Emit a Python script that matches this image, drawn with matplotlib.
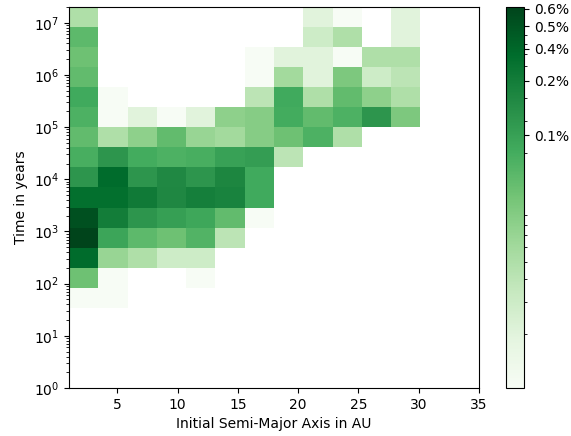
import numpy as np
import matplotlib
matplotlib.use("Agg")
import matplotlib.pyplot as plt
from matplotlib.colors import LogNorm
from matplotlib.ticker import FuncFormatter

# Bin edges: initial semi-major axis (AU) and ejection time (years, log bins)
a_edges = np.linspace(1, 35, 15)
t_edges = np.logspace(0, np.log10(2e7), 20)

# Particle counts per bin, listed from the latest time bin (top) down to the earliest
counts_top_down = [
    [5,   0,  0,  0,  0,  0,  0,  0,  2,  1,  0,  2, 0, 0],
    [15,  0,  0,  0,  0,  0,  0,  0,  3,  5,  0,  2, 0, 0],
    [12,  0,  0,  0,  0,  0,  1,  2,  2,  1,  5,  5, 0, 0],
    [14,  0,  0,  0,  0,  0,  1,  6,  2, 10,  3,  4, 0, 0],
    [21,  1,  0,  0,  0,  0,  4, 21,  5, 14,  8,  5, 0, 0],
    [18,  1,  2,  1,  2,  8,  9, 20, 14, 18, 31, 10, 0, 0],
    [14,  5,  8, 14,  7,  6,  9, 12, 18,  5,  0,  0, 0, 0],
    [19, 31, 20, 18, 19, 25, 27,  4,  0,  0,  0,  0, 0, 0],
    [31, 70, 31, 40, 31, 42, 21,  0,  0,  0,  0,  0, 0, 0],
    [65, 65, 53, 41, 48, 45, 21,  0,  0,  0,  0,  0, 0, 0],
    [107, 50, 31, 26, 22, 14, 1,  0,  0,  0,  0,  0, 0, 0],
    [128, 23, 15, 12, 17, 4,  0,  0,  0,  0,  0,  0, 0, 0],
    [70,  7,  5,  3,  3,  0,  0,  0,  0,  0,  0,  0, 0, 0],
    [12,  1,  0,  0,  1,  0,  0,  0,  0,  0,  0,  0, 0, 0],
    [1,   1,  0,  0,  0,  0,  0,  0,  0,  0,  0,  0, 0, 0],
    [0,   0,  0,  0,  0,  0,  0,  0,  0,  0,  0,  0, 0, 0],
    [0,   0,  0,  0,  0,  0,  0,  0,  0,  0,  0,  0, 0, 0],
    [0,   0,  0,  0,  0,  0,  0,  0,  0,  0,  0,  0, 0, 0],
    [0,   0,  0,  0,  0,  0,  0,  0,  0,  0,  0,  0, 0, 0],
]

# Total number of simulated particles (for percentage labels)
total_particles = 20000

# Colorbar tick positions in particle counts
cbar_ticks = [25, 50, 75, 100, 125]

counts = np.array(counts_top_down[::-1], dtype=float)
masked = np.ma.masked_less_equal(counts, 0)

fig = plt.figure(figsize=(5.71, 4.36), dpi=100)
W, H = 571, 436
ax = fig.add_axes([69 / W, (H - 388) / H, (479 - 69) / W, (388 - 7) / H])
cax = fig.add_axes([505.7 / W, (H - 388) / H, 18.6 / W, (388 - 7) / H])

norm = LogNorm(vmin=1, vmax=counts.max())
mesh = ax.pcolormesh(a_edges, t_edges, masked, cmap="Greens", norm=norm)

ax.set_yscale("log")
ax.set_xlim(1, 35)
ax.set_ylim(t_edges[0], t_edges[-1])
ax.set_xticks([5, 10, 15, 20, 25, 30, 35])
ax.set_xlabel("Initial Semi-Major Axis in AU")
ax.set_ylabel("Time in years")

cbar = fig.colorbar(mesh, cax=cax)
cbar.set_ticks(cbar_ticks)
cbar.ax.yaxis.set_major_formatter(
    FuncFormatter(lambda v, pos: f"{v / total_particles * 100:.1f}%")
)

fig.savefig("out.png", dpi=100)
